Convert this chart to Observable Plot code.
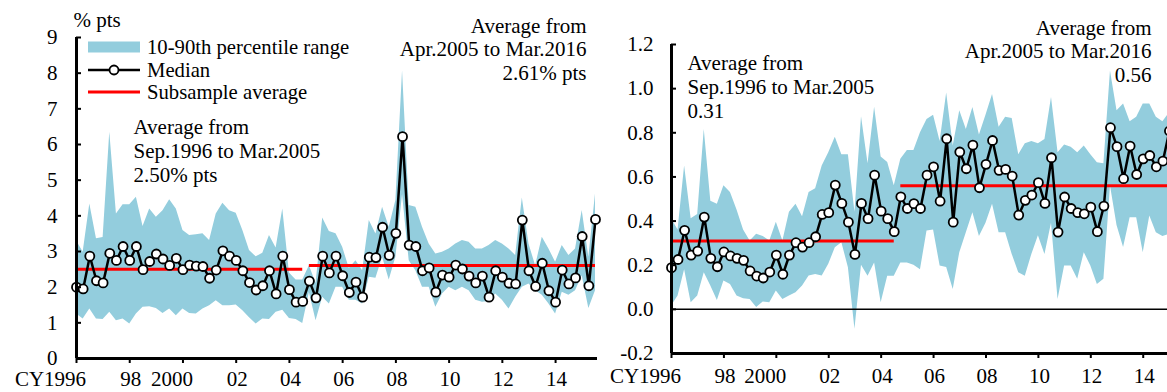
<!DOCTYPE html>
<html>
<head>
<meta charset="utf-8">
<script src="https://cdn.jsdelivr.net/npm/d3@7"></script>
<script src="https://cdn.jsdelivr.net/npm/@observablehq/plot@0.6"></script>
<style>
html, body { margin: 0; padding: 0; background: #fff; overflow: hidden; }
#wrap { position: relative; width: 1167px; height: 392px; overflow: hidden;
        font-family: "Liberation Serif", "Times New Roman", serif; color: #000; }
.panel { position: absolute; top: 0; }
.legrow { position: absolute; left: 88px; height: 24px; line-height: 24px; font-size: 20.7px; white-space: nowrap; }
.legrow svg { position: absolute; left: 0; top: 0; }
.legrow span { position: absolute; left: 59px; top: 0; }
</style>
</head>
<body>
<div id="wrap"></div>
<script>
// ---- x categories (quarters, Sep.1996 .. Mar.2016) and axis labels ----
const xTickIndex = [0, 8, 16, 24, 32, 40, 48, 56, 64, 72];
const xTickLabels = ["CY1996", "98", "2000", "02", "04", "06", "08", "10", "12", "14"];
const subsampleStart = [0, 35];
const subsampleEnd = [34, 78];

// ---- left panel (% pts) ----
const leftMedian = [
  2.00, 1.95, 2.87, 2.18, 2.12, 2.95, 2.75, 3.14, 2.75, 3.14,
  2.49, 2.72, 2.93, 2.79, 2.61, 2.81, 2.49, 2.62, 2.59, 2.58,
  2.25, 2.48, 3.02, 2.87, 2.75, 2.46, 2.13, 1.92, 2.04, 2.46,
  1.81, 2.87, 1.93, 1.58, 1.60, 2.17, 1.70, 2.87, 2.40, 2.87,
  2.32, 1.85, 2.14, 1.72, 2.84, 2.83, 3.68, 2.89, 3.51, 6.22,
  3.18, 3.14, 2.46, 2.54, 1.86, 2.34, 2.28, 2.62, 2.51, 2.31,
  2.12, 2.31, 1.72, 2.46, 2.28, 2.11, 2.09, 3.88, 2.46, 2.02,
  2.67, 1.90, 1.58, 2.48, 2.09, 2.26, 3.42, 2.04, 3.90
];
const leftP90 = [
  3.30, 2.98, 4.33, 3.36, 3.39, 6.34, 4.05, 4.31, 4.31, 4.52,
  3.70, 4.19, 3.96, 4.14, 4.45, 4.19, 3.59, 3.45, 3.47, 3.50,
  3.31, 4.05, 4.35, 4.14, 4.07, 3.59, 3.03, 2.85, 2.95, 3.45,
  3.10, 4.19, 2.40, 2.20, 2.20, 2.60, 2.10, 3.94, 3.56, 3.50,
  3.12, 2.52, 2.74, 2.46, 3.87, 3.49, 4.24, 3.68, 4.43, 8.07,
  4.29, 4.24, 3.68, 3.21, 2.93, 2.98, 3.07, 3.21, 3.31, 3.26,
  3.07, 3.07, 3.17, 3.31, 3.21, 3.07, 2.89, 4.50, 3.21, 2.60,
  3.40, 3.07, 2.70, 3.17, 2.89, 3.07, 4.15, 2.84, 4.61
];
const leftP10 = [
  1.25, 1.11, 1.39, 1.11, 1.09, 1.30, 1.06, 1.11, 0.97, 1.25,
  1.44, 1.45, 1.40, 1.26, 1.39, 1.20, 1.39, 1.26, 1.25, 1.39,
  1.48, 1.62, 1.48, 1.48, 1.50, 1.34, 1.14, 0.97, 1.11, 1.09,
  1.30, 1.35, 1.12, 1.09, 0.98, 1.85, 1.06, 1.72, 1.53, 2.00,
  2.00, 1.63, 1.63, 1.53, 2.28, 2.25, 2.84, 2.20, 2.84, 4.60,
  2.74, 2.46, 2.00, 2.00, 1.44, 1.81, 2.00, 1.90, 2.00, 1.90,
  1.63, 1.58, 1.60, 1.81, 1.63, 1.39, 1.72, 2.00, 2.09, 1.90,
  1.77, 1.53, 1.25, 1.86, 1.77, 1.90, 2.32, 1.40, 1.90
];
const leftAverages = [2.50, 2.61];
const leftYTicks = [0, 1, 2, 3, 4, 5, 6, 7, 8, 9];
const leftNotes = ["Average from\nSep.1996 to Mar.2005\n2.50% pts", "Average from\nApr.2005 to Mar.2016\n2.61% pts"];

// ---- right panel ----
const rightMedian = [
  0.189, 0.226, 0.358, 0.246, 0.264, 0.418, 0.231, 0.193, 0.260, 0.242,
  0.231, 0.222, 0.174, 0.151, 0.142, 0.169, 0.246, 0.159, 0.246, 0.302,
  0.282, 0.302, 0.329, 0.430, 0.438, 0.563, 0.480, 0.395, 0.249, 0.480,
  0.411, 0.608, 0.445, 0.411, 0.352, 0.510, 0.457, 0.479, 0.457, 0.608,
  0.646, 0.490, 0.773, 0.395, 0.713, 0.637, 0.744, 0.551, 0.657, 0.765,
  0.630, 0.634, 0.604, 0.427, 0.494, 0.518, 0.574, 0.480, 0.687, 0.350,
  0.509, 0.457, 0.438, 0.433, 0.463, 0.352, 0.468, 0.823, 0.737, 0.592,
  0.740, 0.611, 0.682, 0.697, 0.646, 0.672, 0.808, 0.700, 0.750
];
const rightP90 = [
  0.41, 0.36, 0.65, 0.41, 0.43, 0.815, 0.49, 0.476, 0.56, 0.53,
  0.45, 0.36, 0.31, 0.34, 0.33, 0.31, 0.395, 0.31, 0.44, 0.476,
  0.42, 0.53, 0.547, 0.65, 0.71, 0.78, 0.70, 0.70, 0.44, 0.873,
  0.66, 0.916, 0.69, 0.665, 0.56, 0.68, 0.72, 0.72, 0.80, 0.86,
  0.88, 0.76, 0.98, 0.74, 0.90, 0.815, 0.915, 0.79, 0.88, 0.974,
  0.825, 0.87, 0.865, 0.70, 0.75, 0.76, 0.75, 0.77, 0.96, 0.71,
  0.745, 0.735, 0.71, 0.74, 0.70, 0.664, 0.66, 1.08, 0.90, 0.93,
  0.85, 0.87, 0.93, 0.93, 0.87, 0.85, 0.89, 0.85, 0.90
];
const rightP10 = [
  0.015, 0.06, 0.18, 0.03, 0.06, 0.166, 0.106, 0.04, 0.128, 0.113,
  0.06, 0.048, 0.045, 0.008, 0.033, 0.03, 0.083, 0.045, 0.06, 0.075,
  0.106, 0.151, 0.158, 0.151, 0.204, 0.279, 0.302, 0.189, -0.09, 0.20,
  0.15, 0.21, 0.03, 0.15, 0.15, 0.21, 0.21, 0.20, 0.18, 0.355,
  0.36, 0.196, 0.19, 0.09, 0.257, 0.347, 0.438, 0.33, 0.39, 0.476,
  0.347, 0.347, 0.249, 0.166, 0.15, 0.249, 0.333, 0.249, 0.39, 0.045,
  0.196, 0.196, 0.136, 0.257, 0.196, 0.113, 0.136, 0.56, 0.38, 0.28,
  0.415, 0.415, 0.257, 0.423, 0.347, 0.33, 0.34, 0.30, 0.35
];
const rightAverages = [0.31, 0.56];
const rightYTicks = [-0.2, 0.0, 0.2, 0.4, 0.6, 0.8, 1.0, 1.2];
const rightNotes = ["Average from\nSep.1996 to Mar.2005\n0.31", "Average from\nApr.2005 to Mar.2016\n0.56"];

const legendLabels = ["10-90th percentile range", "Median", "Subsample average"];

// ---- styling ----
const BAND = "#93CDDD";
const FONT = "'Liberation Serif', 'Times New Roman', serif";
const FS = 21;
const labelShift = {"CY1996": -26, "2000": -11};

function panel(o) {
  const rows = o.median.map((m, i) => ({i, m, lo: o.p10[i], hi: o.p90[i]}));
  const avgRows = o.avg.map((v, k) => ({v, x1: subsampleStart[k], x2: subsampleEnd[k]}));
  const xl = xTickIndex.map((i, k) => ({i, label: xTickLabels[k]}));
  const [y0] = o.yDomain;
  const marks = [
    Plot.areaY(rows, {x: "i", y1: "lo", y2: "hi", fill: BAND}),
  ];
  if (o.zero) marks.push(Plot.ruleY([0], {stroke: "#000", strokeWidth: 1.5}));
  marks.push(
    Plot.ruleY(avgRows, {y: "v", x1: "x1", x2: "x2", stroke: "#ff0000", strokeWidth: 3}),
    Plot.line(rows, {x: "i", y: "m", stroke: "#000", strokeWidth: 2.5}),
    Plot.dot(rows, {x: "i", y: "m", r: 4.5, fill: "#fff", stroke: "#000", strokeWidth: 1.8}),
    Plot.ruleX([0], {stroke: "#000", strokeWidth: 3}),
    Plot.ruleY([y0], {stroke: "#000", strokeWidth: 3}),
    Plot.axisY({ticks: o.yTicks, tickSize: 5, dx: 5, strokeWidth: 2, tickFormat: () => "", label: null}),
    Plot.axisY({ticks: o.yTicks, tickSize: 0, tickPadding: o.yPad, tickFormat: o.yFmt, label: null, fontSize: FS}),
    Plot.axisX({ticks: xTickIndex, tickSize: 5, strokeWidth: 2, tickFormat: () => "", label: null}),
    Plot.text(xl.filter(d => !(d.label in labelShift)), {x: "i", text: "label", frameAnchor: "bottom", dy: o.labelDy, dx: 1, fontSize: FS}),
    ...Object.entries(labelShift).map(([lab, sh]) =>
      Plot.text(xl.filter(d => d.label === lab), {x: "i", text: "label", frameAnchor: "bottom", dy: o.labelDy, dx: sh, fontSize: FS})),
    Plot.text([o.notes[0]], {text: d => d, frameAnchor: "top-left", textAnchor: "start", lineAnchor: "middle",
      dx: o.note1[0], dy: o.note1[1], lineHeight: 24 / FS, fontSize: FS}),
    Plot.text([o.notes[1]], {text: d => d, frameAnchor: "top-right", textAnchor: "end", lineAnchor: "middle",
      dx: o.note2[0], dy: o.note2[1], lineHeight: 23.5 / FS, fontSize: FS})
  );
  if (o.unit) marks.push(Plot.text([o.unit], {text: d => d, frameAnchor: "top-left", textAnchor: "start",
      lineAnchor: "middle", dx: -3, dy: -17, fontSize: FS}));
  return Plot.plot({
    width: o.width, height: 392,
    marginLeft: o.ml, marginRight: o.mr, marginTop: o.mt, marginBottom: o.mb,
    style: {fontFamily: FONT, fontSize: FS + "px", background: "transparent", color: "#000", overflow: "visible"},
    x: {domain: [0, 78.3], axis: null},
    y: {domain: o.yDomain, axis: null},
    marks
  });
}

const wrap = document.getElementById("wrap");

const left = panel({
  median: leftMedian, p10: leftP10, p90: leftP90, avg: leftAverages, notes: leftNotes,
  yDomain: [0, 9], yTicks: leftYTicks, yFmt: d => String(d), yPad: 19,
  width: 600, ml: 76, mr: 3, mt: 37, mb: 34, labelDy: 27,
  note1: [57, 113], note2: [-11, 11], unit: "% pts", zero: false
});
left.classList.add("panel"); left.style.left = "0px";
wrap.appendChild(left);

const right = panel({
  median: rightMedian, p10: rightP10, p90: rightP90, avg: rightAverages, notes: rightNotes,
  yDomain: [-0.2, 1.2], yTicks: rightYTicks, yFmt: d => d.toFixed(1), yPad: 18,
  width: 590, ml: 71, mr: 6, mt: 44, mb: 39, labelDy: 29,
  note1: [16, 42], note2: [-33, 6], unit: null, zero: true
});
right.classList.add("panel"); right.style.left = "600px";
wrap.appendChild(right);

// ---- legend (inside left panel) ----
const legCenters = [47, 70, 92];
legendLabels.forEach((lab, k) => {
  const row = document.createElement("div");
  row.className = "legrow";
  row.style.top = (legCenters[k] - 12) + "px";
  let sw = "";
  if (k === 0) sw = `<rect x="0" y="6.5" width="52" height="11" fill="${BAND}"/>`;
  if (k === 1) sw = `<line x1="0" x2="52" y1="12" y2="12" stroke="#000" stroke-width="2.5"/><circle cx="26" cy="12" r="4.5" fill="#fff" stroke="#000" stroke-width="1.8"/>`;
  if (k === 2) sw = `<line x1="0" x2="52" y1="12" y2="12" stroke="#ff0000" stroke-width="3"/>`;
  row.innerHTML = `<svg width="52" height="24">${sw}</svg><span>${lab}</span>`;
  wrap.appendChild(row);
});
</script>
</body>
</html>
